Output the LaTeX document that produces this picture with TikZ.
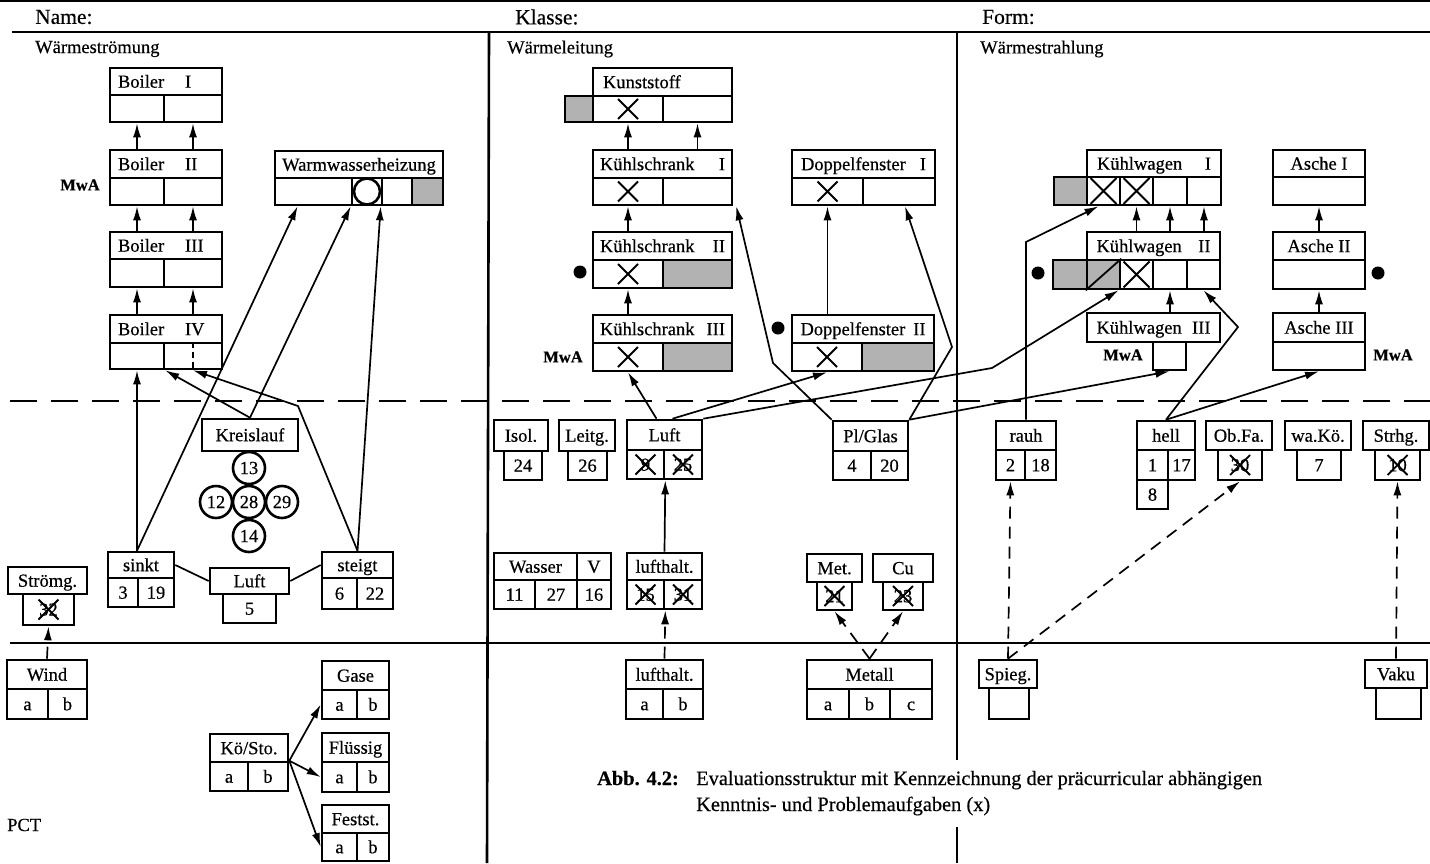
\documentclass[tikz,border=0pt]{standalone}
\usepackage{fontspec}
\setmainfont{Liberation Serif}[UprightFeatures={FakeBold=0.45},BoldFeatures={FakeBold=0.45}]
\usetikzlibrary{arrows.meta,calc}
\newcommand\boxfont{\fontsize{18.5pt}{21pt}\selectfont}
\newcommand\capfont{\fontsize{20.4pt}{24pt}\selectfont}
\newcommand\topfont{\fontsize{21.5pt}{24pt}\selectfont}
\newcommand\mwafont{\fontsize{16.5pt}{19pt}\selectfont\bfseries}
% header text: name left, roman numeral at a fixed tab
\newcommand\numl[2]{\makebox[96pt][l]{\makebox[67pt][l]{#1}#2}}
% header text: name left, roman numeral flush right
\newcommand\numr[3]{\makebox[#3pt]{#1\hfill#2}}
% a box given by its corners (x1,y1) and (x2,y2)
\newcommand\mkbox[7][]{\node[bx,minimum width={(#5)-(#3)},minimum height={(#6)-(#4)},#1] (#2) at ({((#3)+(#5))/2},{((#4)+(#6))/2}) {#7};}
% cross drawn over a cell
\newcommand\xcell[2][10]{\draw[xl] ([shift={(-#1,-#1)}]#2.center) -- ([shift={(#1,#1)}]#2.center) ([shift={(-#1,#1)}]#2.center) -- ([shift={(#1,-#1)}]#2.center);}
\begin{document}
\begin{tikzpicture}[x=1pt,y=-1pt,
  bx/.style={draw,line width=2.6pt,inner sep=0pt,rectangle,font=\boxfont,text height=13pt,text depth=0.6pt},
  shd/.style={fill=black!30},
  xl/.style={line width=1.8pt},
  con/.style={line width=1.7pt},
  arr/.style={con,-{Latex[length=14pt,width=8pt]}},
  darr/.style={arr,dash pattern=on 12pt off 8pt},
  frame/.style={line width=2.6pt},
  txt/.style={inner sep=0pt,font=\boxfont},
  mwa/.style={inner sep=0pt,font=\mwafont},
  dot/.style={circle,fill,minimum size=13pt,inner sep=0pt},
  circ/.style={circle,draw,line width=2.6pt,minimum size=32pt,inner sep=0pt,font=\boxfont}]
\useasboundingbox[fill=white] (0,0) rectangle (1430,863);

% ---------- form frame ----------
\draw[frame] (0,1) -- (1430,1);
\draw[frame] (12,32) -- (1430,32);
\draw[frame] (10,643) -- (1430,643);
\draw[frame,dash pattern=on 27pt off 14pt] (10,401) -- (1430,401);
\draw[frame] (489,32) -- (487,863);
\draw[frame] (957,32) -- (957,760) (957,827) -- (957,863);

\node[inner sep=0pt,anchor=west,font=\topfont] (tName) at (35,17) {Name:};
\node[inner sep=0pt,anchor=west,font=\topfont] (tKlasse) at (515,17) {Klasse:};
\node[inner sep=0pt,anchor=west,font=\topfont] (tForm) at (982,17) {Form:};

\node[txt,anchor=west] (tStr) at (35,49) {Wärmeströmung};
\node[txt,anchor=west] (tLei) at (507,49) {Wärmeleitung};
\node[txt,anchor=west] (tRad) at (980,49) {Wärmestrahlung};

% ---------- Wärmeströmung ----------
\mkbox{B1h}{110}{68}{222}{95}{\numl{Boiler}{I}}
\mkbox{B1a}{110}{95}{164}{122}{}
\mkbox{B1b}{164}{95}{222}{122}{}
\mkbox{B2h}{110}{150}{222}{178}{\numl{Boiler}{II}}
\mkbox{B2a}{110}{178}{164}{205}{}
\mkbox{B2b}{164}{178}{222}{205}{}
\mkbox{B3h}{110}{232}{222}{259}{\numl{Boiler}{III}}
\mkbox{B3a}{110}{259}{164}{287}{}
\mkbox{B3b}{164}{259}{222}{287}{}
\mkbox{B4h}{110}{315}{222}{343}{\numl{Boiler}{IV}}
\mkbox{B4a}{110}{343}{164}{369}{}
\mkbox{B4b}{164}{343}{222}{369}{}
\draw[line width=2.4pt,dash pattern=on 6pt off 4pt] (B4b.north) -- (B4b.south);
\node[mwa] (mwa1) at (80,185) {MwA};

\mkbox{Wh}{275}{151}{443}{178}{Warmwasserheizung}
\mkbox{W1}{275}{178}{352}{205}{}
\mkbox{W2}{352}{178}{382}{205}{}
\mkbox{W3}{382}{178}{412}{205}{}
\mkbox[shd]{W4}{412}{178}{443}{205}{}
\node[circle,draw,line width=2.6pt,minimum size=26pt,inner sep=0pt] (W2o) at (W2.center) {};

\mkbox{Kreis}{202}{419}{298}{451}{Kreislauf}
\node[circ] (c13) at (249,468) {13};
\node[circ] (c12) at (216,502) {12};
\node[circ] (c28) at (249,502) {28};
\node[circ] (c29) at (282,502) {29};
\node[circ] (c14) at (249,536) {14};

\mkbox{sinkt}{108}{552}{174}{578}{sinkt}
\mkbox{s1}{108}{578}{138}{607}{3}
\mkbox{s2}{138}{578}{174}{607}{19}
\mkbox{LuftL}{210}{568}{289}{594}{Luft}
\mkbox{L5}{223}{594}{276}{623}{5}
\mkbox{steigt}{322}{552}{393}{578}{steigt}
\mkbox{t1}{322}{578}{357}{609}{6}
\mkbox{t2}{357}{578}{393}{609}{22}

\mkbox{Stro}{8}{567}{87}{594}{Strömg.}
\mkbox{Sc}{23}{594}{74}{625}{32}
\xcell{Sc}
\mkbox{Wind}{7}{660}{87}{689}{Wind}
\mkbox{Wa}{7}{689}{48}{719}{a}
\mkbox{Wb}{48}{689}{87}{719}{b}

\mkbox{KoSt}{210}{734}{288}{762}{Kö/Sto.}
\mkbox{KSa}{210}{762}{248}{791}{a}
\mkbox{KSb}{248}{762}{288}{791}{b}
\mkbox{Gase}{322}{661}{389}{690}{Gase}
\mkbox{Ga}{322}{690}{357}{719}{a}
\mkbox{Gb}{357}{690}{389}{719}{b}
\mkbox{Flue}{322}{733}{389}{762}{Flüssig}
\mkbox{Fa}{322}{762}{357}{792}{a}
\mkbox{Fb}{357}{762}{389}{792}{b}
\mkbox{Fest}{322}{805}{389}{833}{Festst.}
\mkbox{Sa}{322}{833}{357}{861}{a}
\mkbox{Sb}{357}{833}{389}{861}{b}
\node[txt,anchor=west] (pct) at (7,825) {PCT};

% connectors
\draw[arr] (B1a.south |- B2h.north) -- (B1a.south);
\draw[arr] (B1b.south |- B2h.north) -- (B1b.south);
\draw[arr] (B2a.south |- B3h.north) -- (B2a.south);
\draw[arr] (B2b.south |- B3h.north) -- (B2b.south);
\draw[arr] (B3a.south |- B4h.north) -- (B3a.south);
\draw[arr] (B3b.south |- B4h.north) -- (B3b.south);
\coordinate (sk) at (B4a.south |- sinkt.north);
\draw[arr] (sk) -- (B4a.south);
\draw[arr] (sk) -- ($(W1.south west)!0.3!(W1.south east)$);
\draw[arr] (Kreis.north) -- (B4a.south east);
\draw[arr] (Kreis.north) -- (W2.south west);
\draw[arr] (steigt.north) -- (W3.south west);
\coordinate (kb) at (298,406);
\draw[arr] (steigt.north) -- (kb) -- (B4b.south);
\draw[con] (sinkt.east) -- (LuftL.west);
\draw[con] (LuftL.east) -- (steigt.west);
\draw[darr] (Wind.north) -- (Sc.south);
\draw[arr] (KSb.north east) -- (Ga.west);
\draw[arr] (KSb.north east) -- (Fa.west);
\draw[arr] (KSb.north east) -- (Sa.west);

% ---------- Wärmeleitung ----------
\mkbox{Kh}{593}{68}{732}{96}{\makebox[119pt][l]{Kunststoff}}
\mkbox[shd]{K0}{565}{96}{593}{122}{}
\mkbox{K1}{593}{96}{663}{122}{}
\mkbox{K2}{663}{96}{732}{122}{}
\xcell{K1}
\mkbox{KS1h}{593}{150}{732}{178}{\numr{Kühlschrank}{I}{125}}
\mkbox{KS1a}{593}{178}{663}{205}{}
\mkbox{KS1b}{663}{178}{732}{205}{}
\xcell{KS1a}
\mkbox{KS2h}{593}{232}{732}{260}{\numr{Kühlschrank}{II}{125}}
\mkbox{KS2a}{593}{260}{663}{288}{}
\mkbox[shd]{KS2b}{663}{260}{732}{288}{}
\xcell{KS2a}
\mkbox{KS3h}{593}{315}{732}{343}{\numr{Kühlschrank}{III}{125}}
\mkbox{KS3a}{593}{343}{663}{371}{}
\mkbox[shd]{KS3b}{663}{343}{732}{371}{}
\xcell{KS3a}
\node[dot] (dot1) at (580,272) {};
\node[mwa] (mwa2) at (563,357) {MwA};

\mkbox{DF1h}{792}{150}{935}{178}{\numr{Doppelfenster}{I}{125}}
\mkbox{DF1a}{792}{178}{863}{205}{}
\mkbox{DF1b}{863}{178}{935}{205}{}
\xcell{DF1a}
\mkbox{DF2h}{792}{315}{934}{343}{\numr{Doppelfenster}{II}{125}}
\mkbox{DF2a}{792}{343}{862}{371}{}
\mkbox[shd]{DF2b}{862}{343}{934}{371}{}
\xcell{DF2a}
\node[dot] (dot2) at (778,328) {};

\mkbox{Isol}{494}{420}{548}{451}{Isol.}
\mkbox{I24}{504}{451}{542}{480}{24}
\mkbox{Leit}{559}{420}{615}{451}{Leitg.}
\mkbox{L26}{568}{451}{607}{480}{26}
\mkbox{LM}{627}{420}{702}{450}{Luft}
\mkbox{LM1}{627}{450}{664}{479}{9}
\mkbox{LM2}{664}{450}{702}{479}{25}
\xcell{LM1}\xcell{LM2}
\mkbox{PG}{833}{421}{908}{451}{Pl/Glas}
\mkbox{PG1}{833}{451}{871}{480}{4}
\mkbox{PG2}{871}{451}{908}{480}{20}

\mkbox{Was}{494}{553}{577}{580}{Wasser}
\mkbox{WV}{577}{553}{611}{580}{V}
\mkbox{W11}{494}{580}{535}{609}{11}
\mkbox{W27}{535}{580}{577}{609}{27}
\mkbox{W16}{577}{580}{611}{609}{16}
\mkbox{LH}{627}{553}{702}{580}{lufthalt.}
\mkbox{LH1}{627}{580}{664}{609}{15}
\mkbox{LH2}{664}{580}{702}{609}{31}
\xcell{LH1}\xcell{LH2}
\mkbox{MetH}{807}{554}{862}{582}{Met.}
\mkbox{MetC}{817}{582}{852}{610}{21}
\xcell{MetC}
\mkbox{CuH}{873}{554}{933}{582}{Cu}
\mkbox{CuC}{883}{582}{923}{610}{23}
\xcell{CuC}

\mkbox{LL}{626}{660}{703}{689}{lufthalt.}
\mkbox{LLa}{626}{689}{663}{719}{a}
\mkbox{LLb}{663}{689}{703}{719}{b}
\mkbox{MEh}{807}{660}{932}{689}{Metall}
\mkbox{MEa}{807}{689}{849}{719}{a}
\mkbox{MEb}{849}{689}{890}{719}{b}
\mkbox{MEc}{890}{689}{932}{719}{c}

\node[anchor=base west,inner sep=0pt,font=\capfont] (cap0) at (597,785) {\textbf{Abb. 4.2:}};
\node[anchor=base west,inner sep=0pt,font=\capfont] (cap1) at (696,785) {Evaluationsstruktur mit Kennzeichnung der präcurricular abhängigen};
\node[anchor=base west,inner sep=0pt,font=\capfont] (cap2) at (696,811) {Kenntnis- und Problemaufgaben (x)};

% connectors
\draw[arr] (K1.south |- KS1h.north) -- (K1.south);
\draw[arr] (K2.south |- KS1h.north) -- (K2.south);
\draw[arr] (KS1a.south |- KS2h.north) -- (KS1a.south);
\draw[arr] (KS2a.south |- KS3h.north) -- (KS2a.south);
\draw[arr] (DF1a.south |- DF2h.north) -- (DF1a.south);
\coordinate (pb1) at (773,363);
\draw[arr] (PG.north west) -- (pb1) -- ([xshift=3pt]KS1b.south east);
\coordinate (pb2) at (952,347);
\draw[arr] (PG.north east) -- (pb2) -- ([xshift=6pt]DF1b.south);
\draw[arr] ([xshift=-8pt]LM.north) -- (KS3a.south);
\draw[arr] ([xshift=8pt]LM.north) -- (DF2a.south);
\draw[arr] (LH.north) -- (LM1.south east);
\draw[darr] (LL.north) -- (LH1.south east);
\draw[darr] (MEh.north) -- (MetC.south);
\draw[darr] (MEh.north) -- (CuC.south);

% ---------- Wärmestrahlung ----------
\mkbox{KW1h}{1087}{150}{1221}{177}{\numr{Kühlwagen}{I}{114}}
\mkbox[shd]{KW1s}{1054}{177}{1087}{205}{}
\mkbox{KW1a}{1087}{177}{1120}{205}{}
\mkbox{KW1b}{1120}{177}{1153}{205}{}
\mkbox{KW1c}{1153}{177}{1187}{205}{}
\mkbox{KW1d}{1187}{177}{1221}{205}{}
\xcell[13]{KW1a}\xcell[13]{KW1b}
\mkbox{KW2h}{1087}{232}{1220}{260}{\numr{Kühlwagen}{II}{114}}
\mkbox[shd]{KW2a}{1053}{260}{1087}{289}{}
\mkbox[shd]{KW2b}{1087}{260}{1120}{289}{}
\mkbox{KW2c}{1120}{260}{1153}{289}{}
\mkbox{KW2d}{1153}{260}{1187}{289}{}
\mkbox{KW2e}{1187}{260}{1220}{289}{}
\draw[xl] (KW2b.south west) -- (KW2b.north east);
\xcell[13]{KW2c}
\mkbox{KW3h}{1087}{313}{1220}{342}{\numr{Kühlwagen}{III}{114}}
\mkbox{KW3a}{1153}{342}{1186}{370}{}
\node[dot] (dot3) at (1038,273) {};
\node[mwa] (mwa3) at (1123,355) {MwA};

\mkbox{A1h}{1273}{150}{1365}{177}{Asche I}
\mkbox{A1c}{1273}{177}{1365}{205}{}
\mkbox{A2h}{1273}{232}{1365}{260}{Asche II}
\mkbox{A2c}{1273}{260}{1365}{289}{}
\mkbox{A3h}{1273}{313}{1365}{342}{Asche III}
\mkbox{A3c}{1273}{342}{1365}{370}{}
\node[dot] (dot4) at (1378,273) {};
\node[mwa] (mwa4) at (1393,355) {MwA};

\mkbox{rauh}{996}{421}{1056}{450}{rauh}
\mkbox{R1}{996}{450}{1025}{480}{2}
\mkbox{R2}{1025}{450}{1056}{480}{18}
\mkbox{hell}{1137}{421}{1195}{450}{hell}
\mkbox{H1}{1137}{450}{1168}{480}{1}
\mkbox{H2}{1168}{450}{1195}{480}{17}
\mkbox{H3}{1137}{480}{1168}{509}{8}
\mkbox{ObFa}{1206}{421}{1272}{450}{Ob.Fa.}
\mkbox{OF}{1218}{450}{1262}{480}{30}
\xcell{OF}
\mkbox{waKo}{1285}{421}{1351}{450}{wa.Kö.}
\mkbox{WK7}{1297}{450}{1341}{480}{7}
\mkbox{Strh}{1363}{421}{1429}{450}{Strhg.}
\mkbox{SG}{1375}{450}{1420}{480}{10}
\xcell{SG}
\mkbox{Spieg}{979}{660}{1037}{688}{Spieg.}
\mkbox{SP}{989}{688}{1029}{719}{}
\mkbox{Vaku}{1365}{660}{1427}{688}{Vaku}
\mkbox{VK}{1376}{688}{1421}{719}{}

% connectors
\draw[arr] (KW1b.south |- KW2h.north) -- (KW1b.south);
\draw[arr] (KW1c.south |- KW2h.north) -- (KW1c.south);
\draw[arr] (KW1d.south |- KW2h.north) -- (KW1d.south);
\draw[arr] (KW2d.south |- KW3h.north) -- (KW2d.south);
\draw[arr] (A1c.south |- A2h.north) -- (A1c.south);
\draw[arr] (A2c.south |- A3h.north) -- (A2c.south);
\coordinate (lb) at (992,368);
\draw[arr] (LM.north east) -- (lb) -- (KW2c.south west);
\draw[arr] (PG.north east) -- (KW3a.south);
\coordinate (rb) at (1026,242);
\draw[arr] (rauh.north) -- (rb) -- ([xshift=-5pt]KW1a.south);
\coordinate (hb) at (1238,327);
\draw[arr] (hell.north) -- (hb) -- (KW2e.south);
\draw[arr] (hell.north) -- (A3c.south);
\draw[darr] (Spieg.north) -- (R1.south);
\draw[darr] (Spieg.north) -- (OF.south);
\draw[darr] (Vaku.north) -- (SG.south);
\end{tikzpicture}
\end{document}
